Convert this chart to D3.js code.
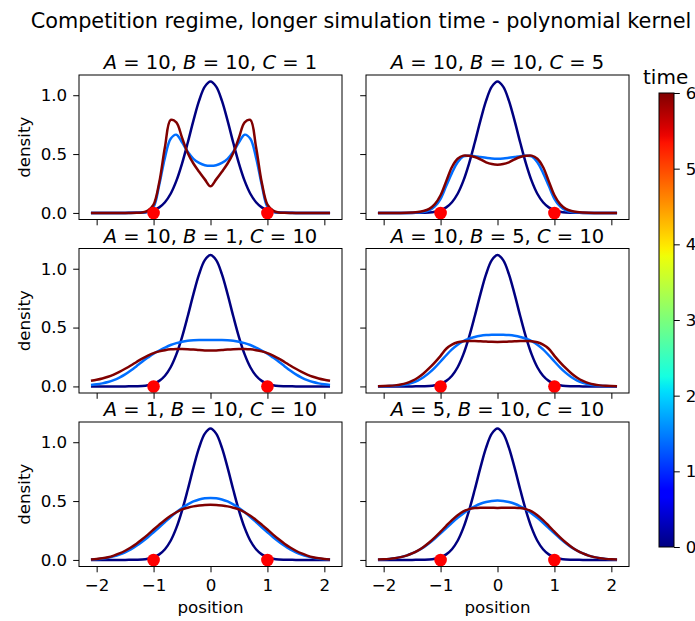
<!DOCTYPE html>
<html>
<head>
<meta charset="utf-8">
<script src="https://cdn.jsdelivr.net/npm/d3@7"></script>
<style>
  html, body { margin: 0; padding: 0; background: #ffffff; }
  svg { display: block; font-family: "DejaVu Sans", sans-serif; }
</style>
</head>
<body>
<svg id="chart" width="695" height="621"></svg>
<script>
// ---- data -------------------------------------------------------------
const positions = [-2.1,-2.0,-1.9,-1.8,-1.7,-1.6,-1.5,-1.4,-1.3,-1.2,-1.1,-1.0,-0.9,-0.8,-0.7,-0.6,-0.5,-0.4,-0.3,-0.2,-0.1,
  0,0.1,0.2,0.3,0.4,0.5,0.6,0.7,0.8,0.9,1.0,1.1,1.2,1.3,1.4,1.5,1.6,1.7,1.8,1.9,2.0,2.1];

const times = [0, 1.4, 6];
const timeTicks = [0, 1, 2, 3, 4, 5, 6];
const xTicks = [-2, -1, 0, 1, 2];
const yTicks = [0, 0.5, 1.0];
const traitPositions = [-1, 1];

const paramA = [10, 10, 10, 10, 1, 5];
const paramB = [10, 10, 1, 5, 10, 10];
const paramC = [1, 5, 10, 10, 10, 10];

// density at t = 0 (same starting profile in every run)
const densityStart = [0,0,0,0,0,0,0,0.001,0.002,0.004,0.010,0.022,0.047,0.091,0.163,0.272,0.419,0.596,0.784,0.954,1.073,
  1.116,1.073,0.954,0.784,0.596,0.419,0.272,0.163,0.091,0.047,0.022,0.010,0.004,0.002,0.001,0,0,0,0,0,0,0];

// density at the intermediate time, one array per run
const densityMid1 = [0,0,0,0,0,0,0,0,0.001,0.003,0.012,0.05,0.24,0.47,0.63,0.665,0.60,0.52,0.46,0.425,0.405,
  0.40,0.405,0.425,0.46,0.52,0.60,0.665,0.63,0.47,0.24,0.05,0.012,0.003,0.001,0,0,0,0,0,0,0,0];
const densityMid2 = [0,0,0,0,0,0,0.001,0.003,0.008,0.022,0.055,0.12,0.23,0.34,0.43,0.48,0.486,0.482,0.475,0.468,0.462,
  0.46,0.462,0.468,0.475,0.482,0.486,0.48,0.43,0.34,0.23,0.12,0.055,0.022,0.008,0.003,0.001,0,0,0,0,0,0];
const densityMid3 = [0.013,0.018,0.026,0.037,0.053,0.075,0.102,0.135,0.172,0.21,0.245,0.278,0.305,0.33,0.352,0.368,0.38,0.388,0.392,0.394,0.395,
  0.395,0.395,0.394,0.392,0.388,0.38,0.368,0.352,0.33,0.305,0.278,0.245,0.21,0.172,0.135,0.102,0.075,0.053,0.037,0.026,0.018,0.013];
const densityMid4 = [0.001,0.002,0.003,0.005,0.009,0.017,0.03,0.05,0.078,0.115,0.16,0.212,0.265,0.315,0.355,0.385,0.405,0.42,0.43,0.436,0.439,
  0.44,0.439,0.436,0.43,0.42,0.405,0.385,0.355,0.315,0.265,0.212,0.16,0.115,0.078,0.05,0.03,0.017,0.009,0.005,0.003,0.002,0.001];
const densityMid5 = [0.003,0.006,0.011,0.019,0.03,0.045,0.065,0.09,0.12,0.155,0.193,0.235,0.278,0.322,0.365,0.405,0.442,0.472,0.497,0.514,0.524,
  0.527,0.524,0.514,0.497,0.472,0.442,0.405,0.365,0.322,0.278,0.235,0.193,0.155,0.12,0.09,0.065,0.045,0.03,0.019,0.011,0.006,0.003];
const densityMid6 = [0.002,0.005,0.009,0.015,0.024,0.037,0.055,0.078,0.107,0.142,0.182,0.225,0.27,0.315,0.357,0.395,0.428,0.455,0.477,0.492,0.501,
  0.504,0.501,0.492,0.477,0.455,0.428,0.395,0.357,0.315,0.27,0.225,0.182,0.142,0.107,0.078,0.055,0.037,0.024,0.015,0.009,0.005,0.002];

// density at the final time, one array per run
const densityEnd1 = [0,0,0,0,0,0,0,0,0.001,0.004,0.02,0.07,0.26,0.56,0.79,0.77,0.64,0.51,0.42,0.35,0.285,
  0.226,0.285,0.35,0.42,0.51,0.64,0.77,0.79,0.56,0.26,0.07,0.02,0.004,0.001,0,0,0,0,0,0,0,0];
const densityEnd2 = [0,0,0,0,0,0.001,0.003,0.007,0.016,0.035,0.075,0.15,0.27,0.39,0.46,0.487,0.485,0.475,0.455,0.43,0.415,
  0.41,0.415,0.43,0.455,0.475,0.485,0.487,0.46,0.39,0.27,0.15,0.075,0.035,0.016,0.007,0.003,0.001,0,0,0,0,0];
const densityEnd3 = [0.048,0.057,0.068,0.082,0.101,0.124,0.150,0.178,0.208,0.237,0.262,0.283,0.298,0.308,0.315,0.318,0.318,0.316,0.313,0.309,0.306,
  0.305,0.306,0.309,0.313,0.316,0.318,0.318,0.315,0.308,0.298,0.283,0.262,0.237,0.208,0.178,0.150,0.124,0.101,0.082,0.068,0.057,0.048];
const densityEnd4 = [0.002,0.003,0.005,0.009,0.016,0.028,0.047,0.074,0.11,0.155,0.205,0.26,0.32,0.355,0.375,0.384,0.386,0.385,0.383,0.381,0.379,
  0.378,0.379,0.381,0.383,0.385,0.386,0.384,0.375,0.355,0.32,0.26,0.205,0.155,0.11,0.074,0.047,0.028,0.016,0.009,0.005,0.003,0.002];
const densityEnd5 = [0.004,0.008,0.014,0.023,0.037,0.055,0.078,0.106,0.138,0.175,0.215,0.258,0.30,0.34,0.375,0.405,0.43,0.444,0.455,0.462,0.467,
  0.468,0.467,0.462,0.455,0.444,0.43,0.405,0.375,0.34,0.30,0.258,0.215,0.175,0.138,0.106,0.078,0.055,0.037,0.023,0.014,0.008,0.004];
const densityEnd6 = [0.003,0.005,0.009,0.015,0.024,0.037,0.055,0.079,0.11,0.148,0.192,0.24,0.29,0.338,0.38,0.412,0.432,0.441,0.444,0.444,0.443,
  0.442,0.443,0.444,0.444,0.441,0.432,0.412,0.38,0.338,0.29,0.24,0.192,0.148,0.11,0.079,0.055,0.037,0.024,0.015,0.009,0.005,0.003];

const densityMid = [densityMid1, densityMid2, densityMid3, densityMid4, densityMid5, densityMid6];
const densityEnd = [densityEnd1, densityEnd2, densityEnd3, densityEnd4, densityEnd5, densityEnd6];

// ---- jet colour map ----------------------------------------------------
const jetR = d3.scaleLinear().domain([0, 0.35, 0.66, 0.89, 1]).range([0, 0, 1, 1, 0.5]).clamp(true);
const jetG = d3.scaleLinear().domain([0, 0.125, 0.375, 0.64, 0.91, 1]).range([0, 0, 1, 1, 0, 0]).clamp(true);
const jetB = d3.scaleLinear().domain([0, 0.11, 0.34, 0.65, 1]).range([0.5, 1, 1, 0, 0]).clamp(true);
const jet = v => d3.rgb(Math.round(255 * jetR(v)), Math.round(255 * jetG(v)), Math.round(255 * jetB(v))).formatHex();
const timeColor = d3.scaleLinear().domain([0, 6]).range([0, 1]);

// ---- layout ------------------------------------------------------------
const svg = d3.select("#chart");
const FONT_TICK = 16.7, FONT_SUB = 19.5, FONT_SUPER = 20.8;
const TICK_LEN = 5.8;
const colLeft = [79, 366], panelW = 263;
const rowTop = [75, 248.5, 422], panelH = 144.5;

const x = d3.scaleLinear().domain([-2.31, 2.31]).range([0, panelW]);
const yMax = d3.max(densityStart);
const yPad = yMax * 0.05;
const y = d3.scaleLinear().domain([-yPad, yMax + yPad]).range([panelH, 0]);

const line = d3.line()
  .x((d, i) => x(positions[i]))
  .y(d => y(d))
  .curve(d3.curveCatmullRom.alpha(0.5));

svg.append("text")
  .attr("x", 361).attr("y", 28)
  .attr("text-anchor", "middle")
  .attr("font-size", FONT_SUPER)
  .attr("fill", "#000")
  .text("Competition regime, longer simulation time - polynomial kernel");

for (let p = 0; p < 6; p++) {
  const col = p % 2, row = Math.floor(p / 2);
  const g = svg.append("g").attr("transform", `translate(${colLeft[col]},${rowTop[row]})`);

  // density curves, earliest first so the final profile sits on top
  const curves = [densityStart, densityMid[p], densityEnd[p]];
  curves.forEach((vals, k) => {
    g.append("path")
      .attr("d", line(vals))
      .attr("fill", "none")
      .attr("stroke", jet(timeColor(times[k])))
      .attr("stroke-width", 2.5)
      .attr("stroke-linejoin", "round");
  });

  // trait positions
  g.selectAll("circle.trait").data(traitPositions).join("circle")
    .attr("class", "trait")
    .attr("cx", d => x(d)).attr("cy", y(0)).attr("r", 6.3)
    .attr("fill", "#ff0000");

  // axes
  const xAxis = d3.axisBottom(x).tickValues(xTicks).tickSize(TICK_LEN).tickPadding(7.3)
    .tickFormat(d3.format("d"));
  if (row < 2) xAxis.tickFormat(() => "");
  const xg = g.append("g").attr("transform", `translate(0,${panelH})`).call(xAxis);

  const yAxis = d3.axisLeft(y).tickValues(yTicks).tickSize(TICK_LEN).tickPadding(6)
    .tickFormat(d3.format(".1f"));
  if (col === 1) yAxis.tickFormat(() => "");
  const yg = g.append("g").call(yAxis);

  [xg, yg].forEach(a => {
    a.select(".domain").remove();
    a.selectAll(".tick line").attr("stroke", "#000").attr("stroke-width", 1);
    a.selectAll(".tick text").attr("fill", "#000").attr("font-size", FONT_TICK)
      .attr("font-family", "DejaVu Sans");
  });

  g.append("rect")
    .attr("width", panelW).attr("height", panelH)
    .attr("fill", "none").attr("stroke", "#000").attr("stroke-width", 1);

  // panel title with italic parameter names
  const t = g.append("text")
    .attr("x", panelW / 2).attr("y", -6)
    .attr("text-anchor", "middle")
    .attr("font-size", FONT_SUB)
    .attr("fill", "#000");
  const parts = [["A", paramA[p]], ["B", paramB[p]], ["C", paramC[p]]];
  parts.forEach(([name, val], j) => {
    t.append("tspan").attr("font-style", "italic").text(name);
    t.append("tspan").text(` = ${val}` + (j < 2 ? ", " : ""));
  });

  if (col === 0) {
    g.append("text")
      .attr("transform", `translate(${30 - colLeft[0]},${panelH / 2}) rotate(-90)`)
      .attr("text-anchor", "middle")
      .attr("font-size", FONT_TICK)
      .attr("fill", "#000")
      .text("density");
  }
  if (row === 2) {
    g.append("text")
      .attr("x", panelW / 2).attr("y", 613 - rowTop[2])
      .attr("text-anchor", "middle")
      .attr("font-size", FONT_TICK)
      .attr("fill", "#000")
      .text("position");
  }
}

// ---- colour bar ---------------------------------------------------------
const cbX = 659, cbW = 15, cbTop = 93, cbBottom = 547;
const defs = svg.append("defs");
const grad = defs.append("linearGradient").attr("id", "jetGrad")
  .attr("x1", 0).attr("y1", 1).attr("x2", 0).attr("y2", 0);
d3.range(0, 1.0001, 1 / 64).forEach(v => {
  grad.append("stop").attr("offset", v).attr("stop-color", jet(v));
});
svg.append("rect")
  .attr("x", cbX).attr("y", cbTop).attr("width", cbW).attr("height", cbBottom - cbTop)
  .attr("fill", "url(#jetGrad)")
  .attr("stroke", "#000").attr("stroke-width", 1);

const cScale = d3.scaleLinear().domain([0, 6]).range([cbBottom, cbTop]);
const cg = svg.append("g").attr("transform", `translate(${cbX + cbW},0)`)
  .call(d3.axisRight(cScale).tickValues(timeTicks).tickSize(TICK_LEN).tickPadding(6).tickFormat(d3.format("d")));
cg.select(".domain").remove();
cg.selectAll(".tick line").attr("stroke", "#000").attr("stroke-width", 1);
cg.selectAll(".tick text").attr("fill", "#000").attr("font-size", FONT_TICK).attr("font-family", "DejaVu Sans");

svg.append("text")
  .attr("x", 643).attr("y", 84)
  .attr("font-size", 20)
  .attr("fill", "#000")
  .text("time");
</script>
</body>
</html>
